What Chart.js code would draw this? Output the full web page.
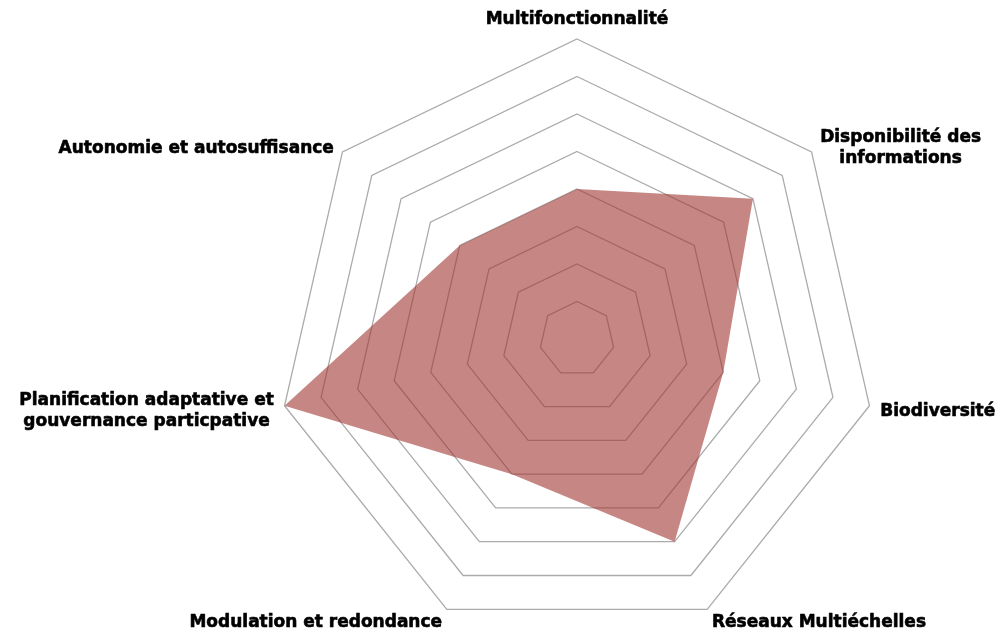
<!DOCTYPE html>
<html>
<head>
<meta charset="utf-8">
<script src="https://cdn.jsdelivr.net/npm/chart.js@4.4.1/dist/chart.umd.min.js"></script>
<style>
  html, body { margin: 0; padding: 0; background: #ffffff; }
  #wrap { width: 1003px; height: 634px; position: relative; }
</style>
</head>
<body>
<div id="wrap"><canvas id="c"></canvas></div>
<script>
const categories = [
  'Multifonctionnalité',
  ['Disponibilité des', 'informations'],
  'Biodiversité',
  'Réseaux Multiéchelles',
  'Modulation et redondance',
  ['Planification adaptative et', 'gouvernance particpative'],
  'Autonomie et autosuffisance'
];
const seriesValues = [4, 6, 4, 6, 4, 8, 4];
const scaleMin = 0;
const scaleMax = 8;
const scaleStep = 1;

const labelFont = 'bold 17px "DejaVu Sans"';
const labelLineHeight = 21;
const labelPad = 11;

const pointLabelPlugin = {
  id: 'customPointLabels',
  afterDraw(chart) {
    const s = chart.scales.r;
    const ctx = chart.ctx;
    ctx.save();
    ctx.font = labelFont;
    ctx.fillStyle = '#000000';
    ctx.strokeStyle = '#000000';
    ctx.lineWidth = 0.6;
    ctx.lineJoin = 'round';
    const labels = chart.data.labels;
    const put = (t, x, y) => { ctx.fillText(t, x, y); ctx.strokeText(t, x, y); };
    for (let i = 0; i < labels.length; i++) {
      const lines = Array.isArray(labels[i]) ? labels[i] : [labels[i]];
      const a = s.getIndexAngle(i);
      const p = s.getPointPosition(i, s.drawingArea + labelPad);
      const sin = Math.sin(a), cos = Math.cos(a);
      let align = 'center';
      if (sin > 0.05) align = 'left';
      else if (sin < -0.05) align = 'right';
      ctx.textAlign = align;
      let x = p.x;
      if (lines.length > 1 && align !== 'center') {
        let w = 0;
        lines.forEach(l => { w = Math.max(w, ctx.measureText(l).width); });
        ctx.textAlign = 'center';
        x = align === 'left' ? p.x + w / 2 : p.x - w / 2;
      }
      if (cos > 0.95) {
        ctx.textBaseline = 'bottom';
        for (let k = 0; k < lines.length; k++) {
          put(lines[k], x, p.y - (lines.length - 1 - k) * labelLineHeight);
        }
      } else {
        ctx.textBaseline = 'middle';
        const y0 = p.y + 3 - (lines.length - 1) * labelLineHeight / 2;
        for (let k = 0; k < lines.length; k++) {
          put(lines[k], x, y0 + k * labelLineHeight);
        }
      }
    }
    ctx.restore();
  }
};

new Chart(document.getElementById('c'), {
  type: 'radar',
  data: {
    labels: categories,
    datasets: [{
      label: 'Série 1',
      data: seriesValues,
      backgroundColor: 'rgba(160, 55, 50, 0.6)',
      borderWidth: 0,
      borderColor: 'rgba(0,0,0,0)',
      pointRadius: 0,
      pointHoverRadius: 0,
      fill: true
    }]
  },
  options: {
    responsive: true,
    maintainAspectRatio: false,
    animation: false,
    layout: { padding: { left: 277, right: 126, top: 44, bottom: 0 } },
    plugins: {
      legend: { display: false },
      tooltip: { enabled: false }
    },
    scales: {
      r: {
        min: scaleMin,
        max: scaleMax,
        ticks: { display: false, stepSize: scaleStep },
        grid: { color: '#ababab', lineWidth: 1.3 },
        angleLines: { display: false },
        pointLabels: { display: false },
        afterFit(scale) {
          // radius follows the (wider) chart-area width, as in the original
          scale.drawingArea = Math.floor(scale.width / 2);
        }
      }
    }
  },
  plugins: [pointLabelPlugin]
});
</script>
</body>
</html>
